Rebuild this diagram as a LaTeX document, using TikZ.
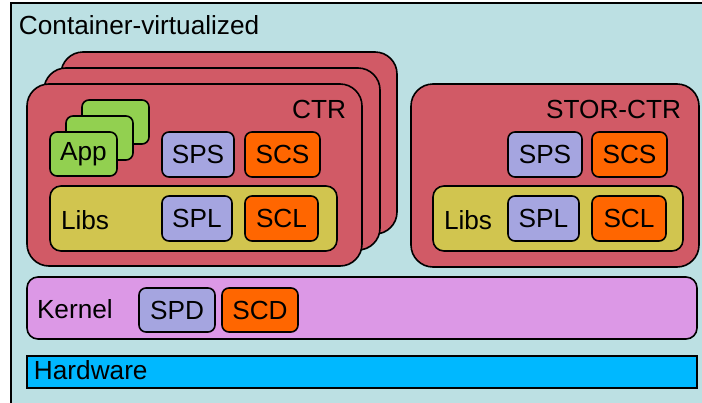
\documentclass[tikz,border=0pt]{standalone}
\usepackage{fontspec}
\setmainfont{Liberation Sans}
\definecolor{bgc}{HTML}{BCE0E3}
\definecolor{ctrred}{HTML}{D15A66}
\definecolor{appg}{HTML}{92D050}
\definecolor{spc}{HTML}{A5A5E0}
\definecolor{scc}{HTML}{FF6600}
\definecolor{libc}{HTML}{D1C54F}
\definecolor{kernc}{HTML}{DC98E6}
\definecolor{hwc}{HTML}{00B8FF}
\begin{document}
\begin{tikzpicture}[x=1pt,y=1pt,line width=1.6pt,
  every node/.style={font=\fontsize{26.2}{30}\selectfont, inner sep=0pt, outer sep=0pt},
  box/.style={draw=black, anchor=north west},
  ctrbox/.style={box, fill=ctrred, rounded corners=22pt, minimum height=182pt},
  appbox/.style={box, fill=appg, rounded corners=7pt, minimum width=67pt, minimum height=44pt},
  spbox/.style={box, fill=spc, rounded corners=7pt, minimum height=45pt},
  scbox/.style={box, fill=scc, rounded corners=7pt, minimum height=45pt},
  libbox/.style={box, fill=libc, rounded corners=11pt, minimum height=65pt},
  lbl/.style={anchor=base west}]
\useasboundingbox (0,0) rectangle (702,-402);
\clip (0,0) rectangle (702,-402);
\node[box, fill=bgc, minimum width=720pt, minimum height=420pt] (cont) at (11,-3) {};
\node[lbl] (contlbl) at (19,-34) {Container-virtualized};
% CTR stack
\node[ctrbox, minimum width=336pt] (ctrc) at (61,-52) {};
\node[ctrbox, minimum width=336pt] (ctrb) at (44,-68) {};
\node[ctrbox, minimum width=335pt] (ctra) at (27,-84) {};
\node[anchor=base east] (ctrlbl) at (346,-118) {CTR};
\node[appbox] (appc) at (82,-100) {};
\node[appbox] (appb) at (66,-116) {};
\node[appbox] (appa) at (50,-132) {App};
\node[spbox, minimum width=72pt] (sps) at (162,-132) {SPS};
\node[scbox, minimum width=75pt] (scs) at (245,-132) {SCS};
\node[libbox, minimum width=287pt] (libs) at (50,-186) {};
\node[lbl] (libslbl) at (61,-229) {Libs};
\node[spbox, minimum width=70pt] (spl) at (162,-196) {SPL};
\node[scbox, minimum width=73pt] (scl) at (245,-196) {SCL};
% STOR-CTR
\node[ctrbox, minimum width=288pt, minimum height=183pt] (stor) at (411,-84) {};
\node[anchor=base east] (storlbl) at (681,-118) {STOR-CTR};
\node[spbox, minimum width=74pt] (sps2) at (508,-132) {SPS};
\node[scbox, minimum width=75pt] (scs2) at (592,-132) {SCS};
\node[libbox, minimum width=250pt] (libs2) at (433,-186) {};
\node[lbl] (libs2lbl) at (444,-229) {Libs};
\node[spbox, minimum width=71pt] (spl2) at (508,-196) {SPL};
\node[scbox, minimum width=74pt] (scl2) at (592,-196) {SCL};
% Kernel
\node[box, fill=kernc, rounded corners=11pt, minimum width=670pt, minimum height=62pt] (kern) at (27,-277) {};
\node[lbl] (kernlbl) at (37,-318) {Kernel};
\node[spbox, minimum width=76pt, minimum height=44pt] (spd) at (139,-288) {SPD};
\node[scbox, minimum width=76pt, minimum height=44pt] (scd) at (222,-288) {SCD};
% Hardware
\node[box, fill=hwc, minimum width=670pt, minimum height=32pt] (hw) at (27,-356) {};
\node[lbl] (hwlbl) at (34,-379) {Hardware};
\end{tikzpicture}
\end{document}
